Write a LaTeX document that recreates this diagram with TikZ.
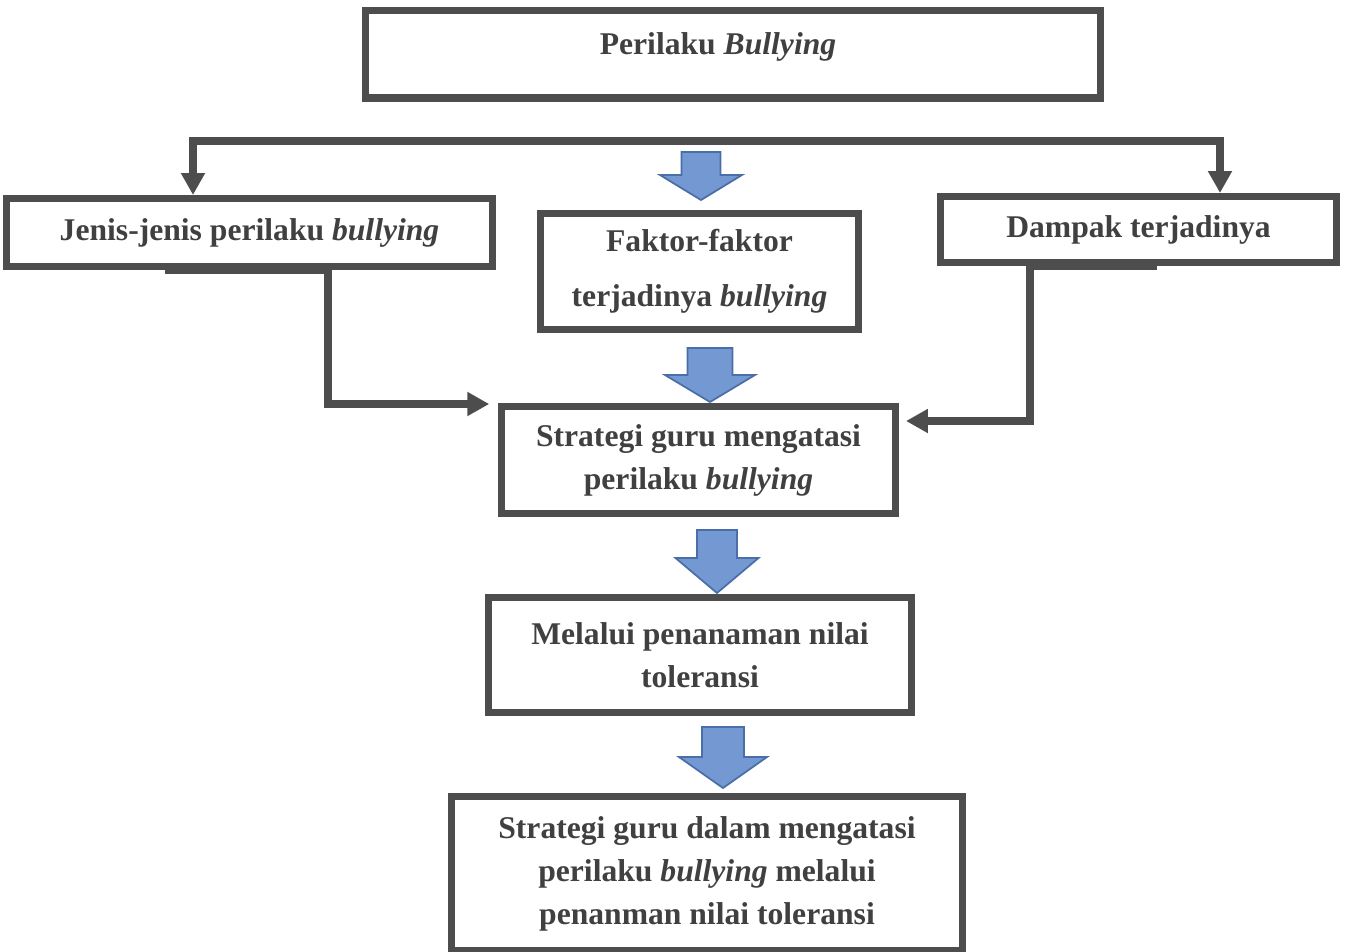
\documentclass[tikz,border=0pt]{standalone}
\usepackage{fontspec}
\setmainfont{Liberation Serif}
\usetikzlibrary{arrows.meta}

\definecolor{garis}{RGB}{77,77,77}
\definecolor{teks}{RGB}{64,64,64}
\definecolor{biru}{RGB}{115,152,210}
\definecolor{birutua}{RGB}{74,110,168}

\tikzset{
  kotak/.style={draw=garis, line width=4pt, fill=white, text=teks, align=center,
    font=\fontsize{18pt}{24.5pt}\selectfont\bfseries},
  panah/.style={draw=garis, line width=4pt, -{Triangle[width=13pt,length=12.5pt]}},
  panahblok/.style={fill=biru, draw=birutua, line width=1pt, line join=miter}
}

\begin{document}
\begin{tikzpicture}[x=0.02cm, y=-0.02cm]
	\useasboundingbox (0,0) rectangle (1346,951);

	% Kotak-kotak
	\node[kotak, minimum width=14.7cm, minimum height=1.76cm, text height=0pt, text depth=0pt] (perilaku) at (733,54) {\kern-0.3cm Perilaku \textit{Bullying}\kern0.3cm};
	\node[kotak, minimum width=9.72cm, minimum height=1.36cm] (jenis) at (249.5,232.5) {Jenis-jenis perilaku \textit{bullying}};
	\node[kotak, minimum width=6.36cm, minimum height=2.32cm] (faktor) at (699.5,271.5) {Faktor-faktor\\[7pt]terjadinya \textit{bullying}};
	\node[kotak, minimum width=7.92cm, minimum height=1.32cm] (dampak) at (1138.5,229.5) {Dampak terjadinya};
	\node[kotak, minimum width=7.88cm, minimum height=2.14cm] (strategi) at (698.5,460) {Strategi guru mengatasi\\perilaku \textit{bullying}};
	\node[kotak, minimum width=8.46cm, minimum height=2.3cm] (melalui) at (700,655) {Melalui penanaman nilai\\toleransi};
	\node[kotak, minimum width=10.24cm, minimum height=3.08cm] (akhir) at (707,873.5) {Strategi guru dalam mengatasi\\perilaku \textit{bullying} melalui\\penanman nilai toleransi};

	% Titik belok
	\coordinate (kiri) at (193,141);
	\coordinate (kanan) at (1220,141);
	\coordinate (belokJ) at (328,404);
	\coordinate (belokD) at (1030,421);

	% Garis penghubung
	\draw[panah, {Triangle[width=13pt,length=12.5pt]}-{Triangle[width=13pt,length=12.5pt]}]
		(kiri |- jenis.north) -- (kiri) -- (kanan) -- (kanan |- dampak.north);
	\draw[panah] ([xshift=-3.26cm]belokJ |- jenis.south) -- (belokJ |- jenis.south) -- (belokJ) -- ([xshift=-5pt]belokJ -| strategi.west);
	\draw[panah] ([xshift=2.54cm]belokD |- dampak.south) -- (belokD |- dampak.south) -- (belokD) -- ([xshift=4pt]belokD -| strategi.east);

	% Panah biru
	\foreach \cx/\ya/\yb/\yc/\sw/\hw in {701/152/175/200/19.5/41, 710/348/375/402/22.5/45, 717/530/558/593/20/41.5, 723/727/757/788/21/44}
		\draw[panahblok] ({\cx-\sw},\ya) -- ({\cx+\sw},\ya) -- ({\cx+\sw},\yb) -- ({\cx+\hw},\yb)
			-- (\cx,\yc) -- ({\cx-\hw},\yb) -- ({\cx-\sw},\yb) -- cycle;
\end{tikzpicture}
\end{document}
